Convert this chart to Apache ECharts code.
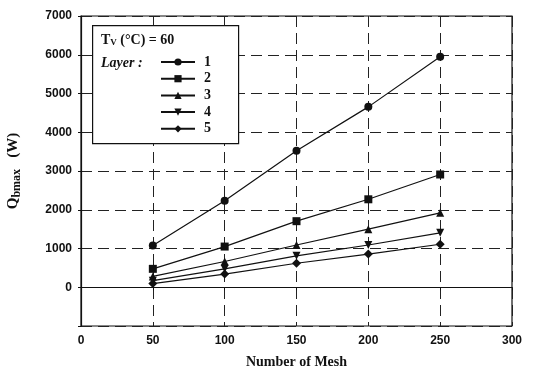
<!DOCTYPE html>
<html><head><meta charset="utf-8">
<script src="https://cdn.jsdelivr.net/npm/echarts@6/dist/echarts.min.js"></script>
<style>html,body{margin:0;padding:0;background:#fff}#c{width:533px;height:376px}</style>
</head><body><div id="c"></div>
<script>
const meshes = [50, 100, 150, 200, 250];
const layer1 = [1075, 2235, 3520, 4655, 5950];
const layer2 = [475, 1050, 1705, 2270, 2910];
const layer3 = [280, 665, 1090, 1500, 1920];
const layer4 = [170, 475, 810, 1090, 1405];
const layer5 = [95, 340, 620, 855, 1110];
const layerNames = ['1', '2', '3', '4', '5'];
const yTicks = [0, 1000, 2000, 3000, 4000, 5000, 6000, 7000];
const xTicks = [0, 50, 100, 150, 200, 250, 300];

const symbols = ['circle', 'rect', 'triangle', 'triangle', 'diamond'];
const rotations = [0, 0, 0, 180, 0];
const sizes = [8, 8, 8, 8, 9];
const all = [layer1, layer2, layer3, layer4, layer5];

const chart = echarts.init(document.getElementById('c'));
const serif = '"Liberation Serif", "DejaVu Serif", serif';
const sans = '"Liberation Sans", Arial, sans-serif';
const dash = [11, 6];

chart.setOption({
  animation: false,
  backgroundColor: '#fff',
  grid: { left: 81, right: 21, top: 16, bottom: 50, show: true, borderColor: '#111', borderWidth: 1.2,
    containLabel: false, outerBoundsMode: 'none' },
  xAxis: {
    type: 'value', min: 0, max: 300, interval: 50,
    axisLine: { show: true, lineStyle: { color: '#111', width: 1.2 } },
    axisTick: { show: true, length: 3, lineStyle: { color: '#111' } },
    axisLabel: { color: '#111', fontFamily: sans, fontWeight: 'bold', fontSize: 12, margin: 9,
      formatter: v => xTicks.includes(v) ? String(v) : '' },
    splitLine: { show: true, lineStyle: { color: '#222', type: dash, width: 1 } },
    name: 'Number of Mesh', nameLocation: 'middle', nameGap: 29,
    nameTextStyle: { color: '#111', fontFamily: serif, fontWeight: 'bold', fontSize: 14 }
  },
  yAxis: {
    type: 'value', min: -1000, max: 7000, interval: 1000,
    axisLine: { show: true, lineStyle: { color: '#111', width: 1.2 } },
    axisTick: { show: true, length: 3, lineStyle: { color: '#111' } },
    axisLabel: { color: '#111', fontFamily: sans, fontWeight: 'bold', fontSize: 12, margin: 9,
      formatter: v => yTicks.includes(v) ? String(v) : '' },
    splitLine: { show: true, lineStyle: { color: '#222', type: dash, width: 1 } },
    name: '{q|Q}{s|bmax}{q|   (W)}', nameLocation: 'middle', nameGap: 58, nameRotate: 90,
    nameTextStyle: { rich: {
      q: { fontFamily: serif, fontWeight: 'bold', fontSize: 15, color: '#111' },
      s: { fontFamily: serif, fontWeight: 'bold', fontSize: 12, color: '#111', verticalAlign: 'bottom', padding: [7, 0, 0, 0] }
    } }
  },
  legend: {
    z: 30, padding: 0,
    orient: 'vertical', left: 160, top: 55, itemWidth: 34, itemHeight: 9, itemGap: 2.7,
    data: layerNames.map(n => ({ name: n })),
    textStyle: { fontFamily: serif, fontWeight: 'bold', fontSize: 14, color: '#111', padding: [0, 0, 0, 4] },
    selectedMode: false
  },
  graphic: [
    { type: 'rect', left: 92, top: 25, shape: { width: 146, height: 118 },
      style: { fill: '#fff', stroke: '#111', lineWidth: 1.2 }, z: 10 },
    { type: 'text', left: 101, top: 33, z: 11,
      style: { text: '{a|T}{b|V}{a| (°C) = 60}', rich: {
        a: { fontFamily: serif, fontWeight: 'bold', fontSize: 14, fill: '#111' },
        b: { fontFamily: serif, fontWeight: 'bold', fontSize: 9, fill: '#111', verticalAlign: 'bottom', padding: [6, 0, 0, 0] }
      } } },
    { type: 'text', left: 101, top: 56, z: 11,
      style: { text: 'Layer :', fontFamily: serif, fontWeight: 'bold', fontStyle: 'italic', fontSize: 14, fill: '#111' } }
  ],
  series: all.map((d, i) => ({
    name: layerNames[i], type: 'line', z: 20,
    data: meshes.map((m, j) => [m, d[j]]),
    symbol: symbols[i], symbolRotate: rotations[i], symbolSize: sizes[i],
    itemStyle: { color: '#111' },
    lineStyle: { color: '#111', width: 1.2 }
  }))
});
</script></body></html>
